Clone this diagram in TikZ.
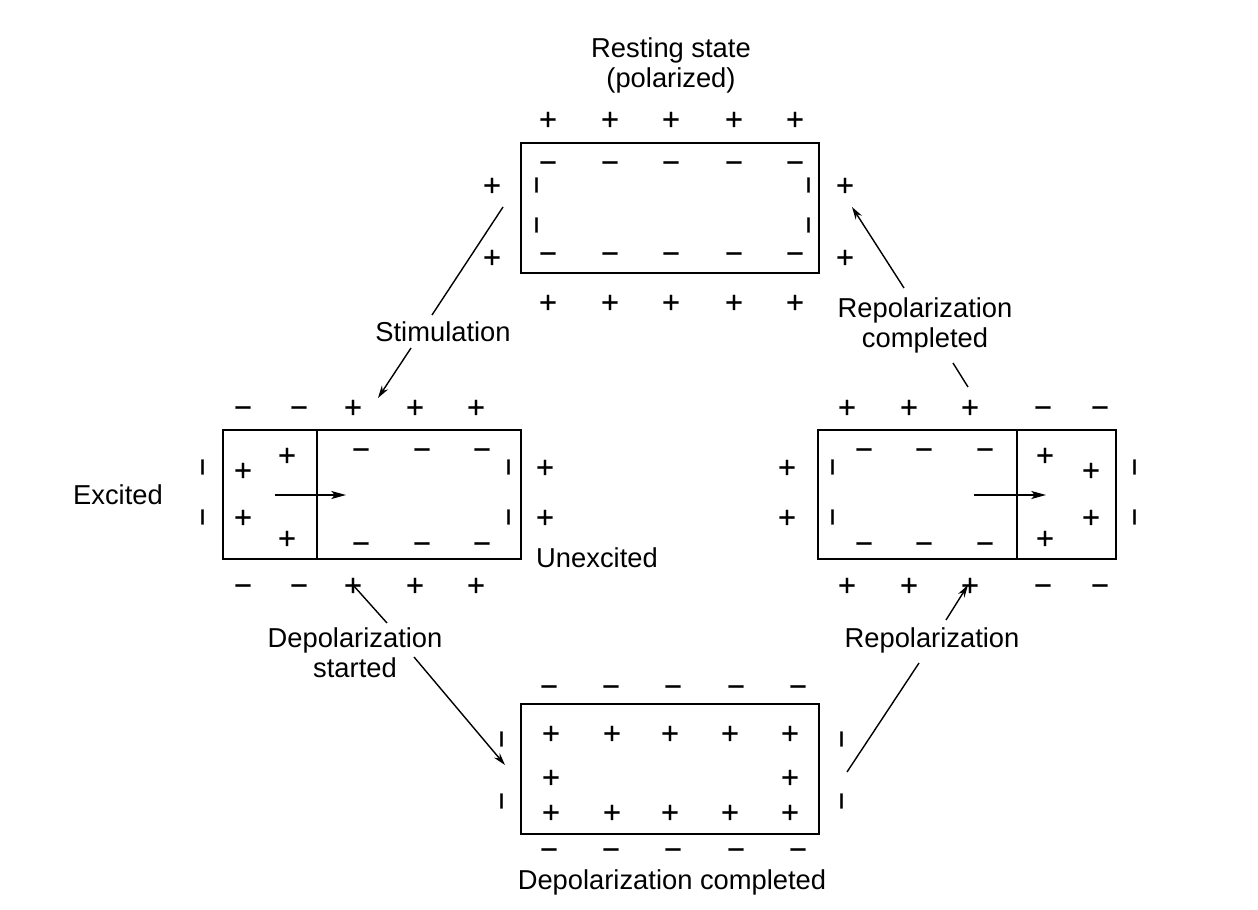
\documentclass[tikz,border=0pt]{standalone}
\usepackage{fontspec}
\setmainfont{Liberation Sans}
\newfontface\chfont{Liberation Sans}[FakeBold=0.8]
\usetikzlibrary{arrows.meta}
\begin{document}
\begin{tikzpicture}[x=0.75pt,y=-0.75pt,
  ch/.style={inner sep=0pt, text height=16pt, text depth=0pt, font=\chfont\fontsize{23}{26}\selectfont},
  vch/.style={ch, rotate=90},
  lbl/.style={font=\fontsize{20.5}{22.5}\selectfont, align=center, inner sep=0pt},
  cell/.style={draw, line width=1.2pt, inner sep=0pt},
  conn/.style={line width=1.05pt},
  tip/.style={-{Stealth[length=9.5pt,width=5.5pt]}},
  itip/.style={-{Stealth[length=11pt,width=6pt,inset=2.5pt]}}]
\useasboundingbox (0,0) rectangle (1258,910);

% ---------- boxes ----------
\node[cell, minimum width=223.5pt, minimum height=97.5pt] (rest) at (670,208) {};
\node[cell, minimum width=223.5pt, minimum height=96.75pt] (exc) at (372,494.5) {};
\node[cell, minimum width=223.5pt, minimum height=96.75pt] (rep) at (967,494.5) {};
\node[cell, minimum width=223.5pt, minimum height=97.5pt] (dep) at (670,769) {};
\draw[line width=1.2pt] (317,430) -- (317,559);
\draw[line width=1.2pt] (1017,430) -- (1017,559);

% ---------- resting state ----------
\foreach \x [count=\i] in {548,610,671,734,795} {
  \node[ch] (rto\i) at (\x,119) {+};
  \node[ch] (rbo\i) at (\x,302) {+};
  \node[ch] (rti\i) at (\x,162) {−};
  \node[ch] (rbi\i) at (\x,253) {−};
}
\foreach \y [count=\i] in {185,225} {
  \node[vch] (rli\i) at (536,\y) {−};
  \node[vch] (rri\i) at (808,\y) {−};
}
\foreach \y [count=\i] in {185,257} {
  \node[ch] (rlo\i) at (492,\y) {+};
  \node[ch] (rro\i) at (845,\y) {+};
}

% ---------- excited (left) ----------
\foreach \y [count=\j] in {407,585} {
  \foreach \x [count=\i] in {243,299} \node[ch] (em\j\i) at (\x,\y) {−};
  \foreach \x [count=\i] in {353,415,476} \node[ch] (ep\j\i) at (\x,\y) {+};
}
\node[ch] (eip1) at (243,470) {+};
\node[ch] (eip2) at (243,517) {+};
\node[ch] (eip3) at (287,455) {+};
\node[ch] (eip4) at (287,538) {+};
\foreach \x [count=\i] in {361,422,482} {
  \node[ch] (eti\i) at (\x,449) {−};
  \node[ch] (ebi\i) at (\x,543) {−};
}
\foreach \y [count=\i] in {467,517} {
  \node[vch] (eri\i) at (508,\y) {−};
  \node[ch] (ero\i) at (545,\y) {+};
  \node[vch] (elo\i) at (202,\y) {−};
}
\coordinate (ea1) at (275,495);
\coordinate (ea2) at (346,495);
\draw[conn,itip] (ea1) -- (ea2);

% ---------- repolarizing (right) ----------
\foreach \y [count=\j] in {407,585} {
  \foreach \x [count=\i] in {847,909,970} \node[ch] (pp\j\i) at (\x,\y) {+};
  \foreach \x [count=\i] in {1043,1100} \node[ch] (pm\j\i) at (\x,\y) {−};
}
\foreach \x [count=\i] in {864,924,985} {
  \node[ch] (pti\i) at (\x,449) {−};
  \node[ch] (pbi\i) at (\x,543) {−};
}
\node[ch] (pip1) at (1045,455) {+};
\node[ch] (pip2) at (1045,538) {+};
\node[ch] (pip3) at (1091,470) {+};
\node[ch] (pip4) at (1091,517) {+};
\foreach \y [count=\i] in {467,517} {
  \node[vch] (pli\i) at (832,\y) {−};
  \node[ch] (plo\i) at (787,\y) {+};
  \node[vch] (pro\i) at (1134,\y) {−};
}
\coordinate (pa1) at (974,495);
\coordinate (pa2) at (1046,495);
\draw[conn,itip] (pa1) -- (pa2);

% ---------- depolarized (bottom) ----------
\foreach \x [count=\i] in {549,611,673,736,798} {
  \node[ch] (dto\i) at (\x,686) {−};
  \node[ch] (dbo\i) at (\x,849) {−};
}
\foreach \x [count=\i] in {551,612,670,730,790} {
  \node[ch] (dti\i) at (\x,733) {+};
  \node[ch] (dbi\i) at (\x,812) {+};
}
\node[ch] (dml) at (551,777) {+};
\node[ch] (dmr) at (790,777) {+};
\foreach \y [count=\i] in {739,801} {
  \node[vch] (dlo\i) at (501,\y) {−};
  \node[vch] (dro\i) at (841,\y) {−};
}

% ---------- labels ----------
\node[lbl] (lrest) at (671,65) {Resting state\\(polarized)};
\node[lbl] (lstim) at (443,332) {Stimulation};
\node[lbl] (lrc) at (925,325) {Repolarization\\completed};
\node[lbl] (lexc) at (118,495) {Excited};
\node[lbl] (lunexc) at (597,558) {Unexcited};
\node[lbl] (lds) at (355,653) {Depolarization\\started};
\node[lbl] (lrep) at (932,640) {Repolarization};
\node[lbl] (ldc) at (672,882) {Depolarization completed};

% ---------- connectors ----------
\coordinate (s1) at (503,207); \coordinate (s2) at (432,315);
\coordinate (s3) at (411,348); \coordinate (s4) at (378,398);
\draw[conn] (s1) -- (s2);
\draw[conn,tip] (s3) -- (s4);

\coordinate (c1) at (968,387); \coordinate (c2) at (953,363);
\coordinate (c3) at (904,288); \coordinate (c4) at (852,207);
\draw[conn] (c1) -- (c2);
\draw[conn,tip] (c3) -- (c4);

\coordinate (d1) at (353,585); \coordinate (d2) at (387,623);
\coordinate (d3) at (414,657); \coordinate (d4) at (505,765);
\draw[conn] (d1) -- (d2);
\draw[conn,tip] (d3) -- (d4);

\coordinate (p1) at (847,772); \coordinate (p2) at (919,663);
\coordinate (p3) at (946,620); \coordinate (p4) at (968,585);
\draw[conn] (p1) -- (p2);
\draw[conn,tip] (p3) -- (p4);
\end{tikzpicture}
\end{document}
